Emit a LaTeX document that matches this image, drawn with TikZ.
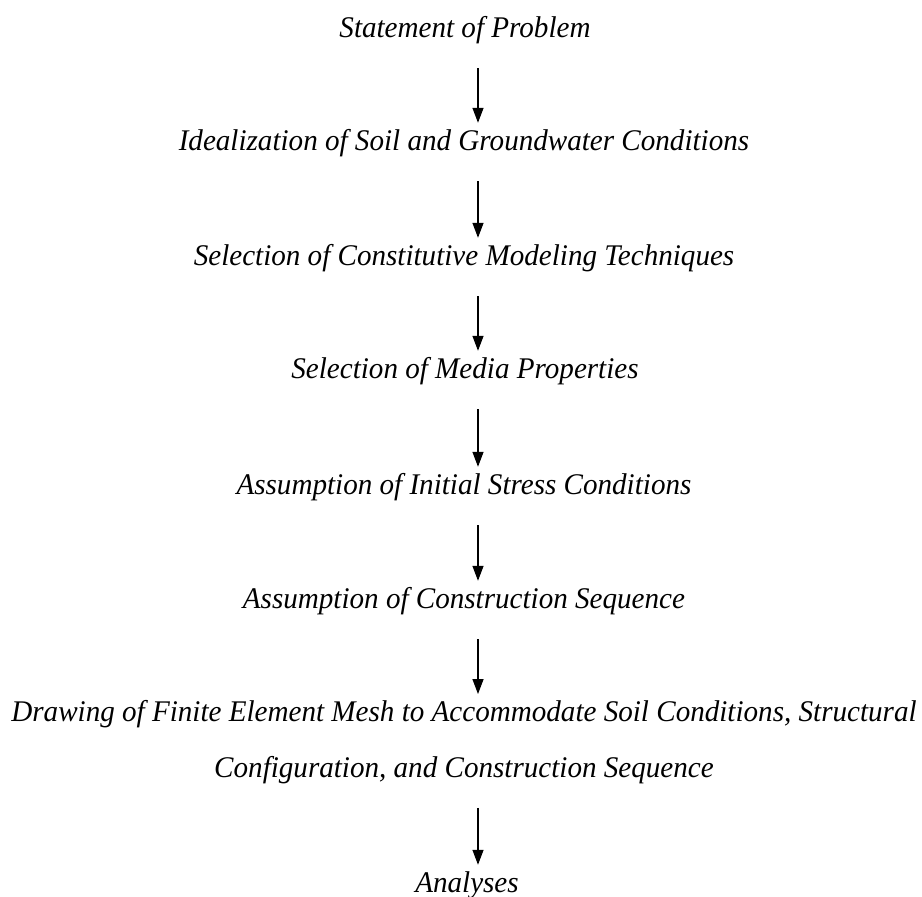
\documentclass[tikz,border=0pt]{standalone}
\usepackage{fontspec}
\setmainfont{Liberation Serif}[FakeStretch=0.97]
\usetikzlibrary{
  arrows.meta,
  positioning}
\tikzset{
  stage/.style={%
    inner sep=0pt,
    % Fixed height and depth so that every line has the same box.
    text height=21pt,
    text depth=7pt,
    font=\fontsize{30}{56}\selectfont\itshape
  },
  stagetwo/.style={%
    inner sep=0pt,
    align=center,
    font=\fontsize{30}{56}\selectfont\itshape
  },
  arrowD/.style={%
    -{Triangle[length=15pt,width=11pt]},
    line width=1.3pt,
    shorten <=24pt,
    shorten >=6pt
  }%
}

\begin{document}
\begin{tikzpicture}[x=1pt,y=-1pt]
\useasboundingbox (0,0) rectangle (922,897);

% The stages, top to bottom.
\node[stage] (Problem) at (465,30) {Statement of Problem};
\node[stage] (Idealization) at (464,143) {Idealization of Soil and Groundwater Conditions};
\node[stage] (Constitutive) at (464,258) {Selection of Constitutive Modeling Techniques};
\node[stage] (Media) at (465,371) {Selection of Media Properties};
\node[stage] (Initial) at (464,487) {Assumption of Initial Stress Conditions};
\node[stage] (Sequence) at (464,601) {Assumption of Construction Sequence};
\node[stagetwo] (Mesh) at (464,742) {Drawing of Finite Element Mesh to Accommodate Soil Conditions, Structural\\
  Configuration, and Construction Sequence};
\node[stage] (Analyses) at (467,885) {Analyses};

% Arrows sit a little right of the text centres.
\draw[arrowD] ([xshift=13pt]Problem.south) -- ([xshift=13pt]Problem.south |- Idealization.north);
\draw[arrowD] ([xshift=14pt]Idealization.south) -- ([xshift=14pt]Idealization.south |- Constitutive.north);
\draw[arrowD] ([xshift=14pt]Constitutive.south) -- ([xshift=14pt]Constitutive.south |- Media.north);
\draw[arrowD] ([xshift=13pt]Media.south) -- ([xshift=13pt]Media.south |- Initial.north);
\draw[arrowD] ([xshift=14pt]Initial.south) -- ([xshift=14pt]Initial.south |- Sequence.north);
\draw[arrowD] ([xshift=14pt]Sequence.south) -- ([xshift=14pt]Sequence.south |- Mesh.north);
\draw[arrowD] ([xshift=14pt]Mesh.south) -- ([xshift=14pt]Mesh.south |- Analyses.north);

\end{tikzpicture}
\end{document}
